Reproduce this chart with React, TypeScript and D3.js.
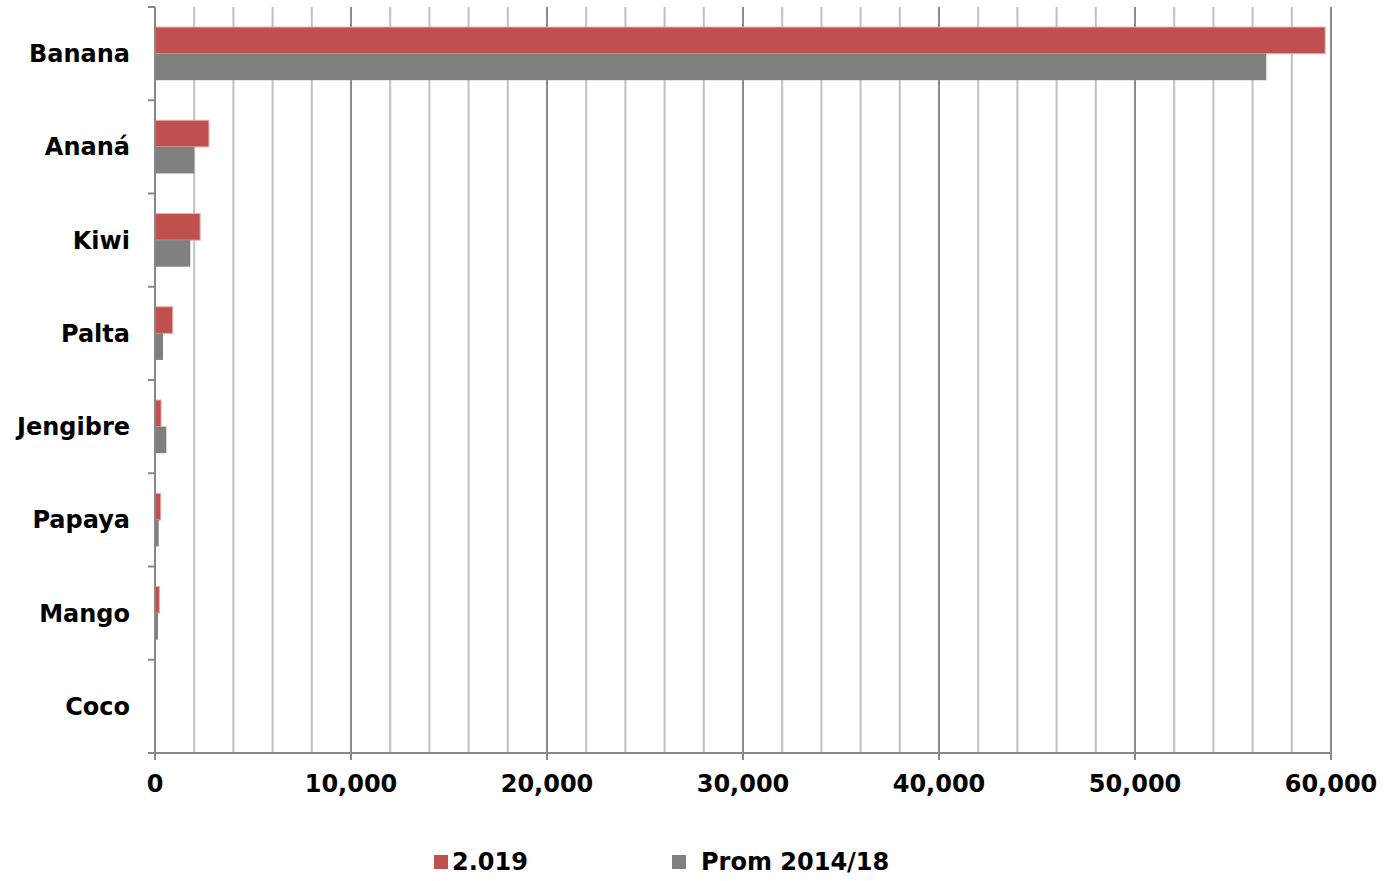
import React from "react";
import * as d3 from "d3";

const categories = ["Banana", "Ananá", "Kiwi", "Palta", "Jengibre", "Papaya", "Mango", "Coco"];
const series2019 = [59700, 2750, 2300, 900, 310, 290, 220, 20];
const seriesProm = [56700, 2000, 1800, 410, 580, 190, 150, 10];
const seriesNames = ["2.019", "Prom 2014/18"];
const seriesColors = ["#C0504D", "#808080"];
const xTicks = [0, 10000, 20000, 30000, 40000, 50000, 60000];

const W = 1399;
const H = 881;
const left = 155;
const right = 1331;
const top = 7;
const bottom = 753;
const FONT = "'DejaVu Sans', Verdana, sans-serif";
const FS = 24;

export default function App() {
  const x = d3.scaleLinear().domain([0, 60000]).range([left, right]);
  const y = d3.scaleBand().domain(categories).range([top, bottom]).paddingInner(0).paddingOuter(0);
  const bw = y.bandwidth();
  const pad = bw * 0.215;
  const barH = (bw - 2 * pad) / 2;
  const grid = d3.range(2000, 60001, 2000);
  const fmt = d3.format(",");
  const boundaries = d3.range(0, categories.length + 1).map((i) => top + i * bw);

  return (
    <svg width={W} height={H} style={{ position: "absolute", left: 0, top: 0 }}>
      <rect x={0} y={0} width={W} height={H} fill="#fff" />
      {grid.map((g) => (
        <line
          key={g}
          x1={x(g)}
          x2={x(g)}
          y1={top}
          y2={bottom}
          stroke={g % 10000 === 0 ? "#8c8c8c" : "#c0c0c0"}
          strokeWidth={2}
        />
      ))}
      {categories.map((c, i) => (
        <g key={c}>
          <rect
            x={x(0)}
            y={(y(c) as number) + pad}
            width={x(series2019[i]) - x(0)}
            height={barH}
            fill={seriesColors[0]}
            stroke="#E3A9A7"
            strokeWidth={1}
          />
          <rect
            x={x(0)}
            y={(y(c) as number) + pad + barH}
            width={x(seriesProm[i]) - x(0)}
            height={barH}
            fill={seriesColors[1]}
          />
          <text
            x={130}
            y={(y(c) as number) + bw / 2}
            dy="0.35em"
            textAnchor="end"
            fontFamily={FONT}
            fontWeight={700}
            fontSize={FS}
            fill="#000"
          >
            {c}
          </text>
        </g>
      ))}
      <line x1={left} x2={left} y1={top} y2={bottom + 7} stroke="#888" strokeWidth={2} />
      {boundaries.map((b, i) => (
        <line key={i} x1={left - 7} x2={left} y1={b} y2={b} stroke="#888" strokeWidth={2} />
      ))}
      <line x1={left - 7} x2={right} y1={bottom} y2={bottom} stroke="#888" strokeWidth={2} />
      {xTicks.map((t) => (
        <g key={t}>
          <line x1={x(t)} x2={x(t)} y1={bottom} y2={bottom + 7} stroke="#888" strokeWidth={2} />
          <text
            x={x(t)}
            y={792}
            textAnchor="middle"
            fontFamily={FONT}
            fontWeight={700}
            fontSize={FS}
            fill="#000"
          >
            {fmt(t)}
          </text>
        </g>
      ))}
      <rect x={434} y={855} width={14} height={14} fill={seriesColors[0]} />
      <text x={452} y={870} fontFamily={FONT} fontWeight={700} fontSize={FS} fill="#000">
        {seriesNames[0]}
      </text>
      <rect x={672} y={855} width={14} height={14} fill={seriesColors[1]} />
      <text x={701} y={870} fontFamily={FONT} fontWeight={700} fontSize={FS} fill="#000">
        {seriesNames[1]}
      </text>
    </svg>
  );
}
